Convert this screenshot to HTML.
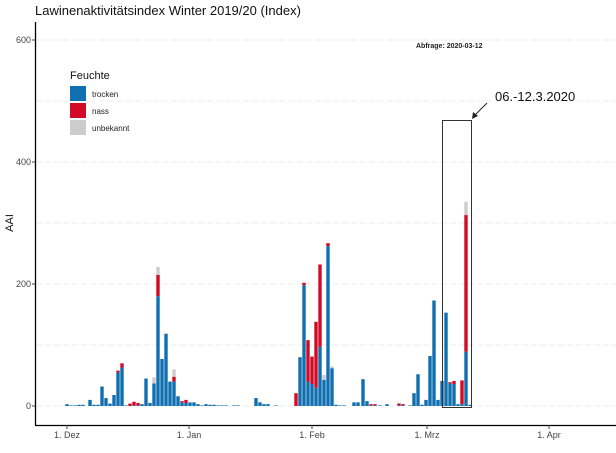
<!DOCTYPE html>
<html><head><meta charset="utf-8"><style>
html,body{margin:0;padding:0;background:#fff;}
svg{display:block;font-family:"Liberation Sans",sans-serif;}
.t{fill:#0f6fb0}.n{fill:#d10a25}.g{fill:#cccccc}
</style></head><body>
<svg width="616" height="453" viewBox="0 0 616 453" xmlns="http://www.w3.org/2000/svg">
<rect width="616" height="453" fill="#fff"/>
<text x="35" y="15" font-size="13" fill="#111">Lawinenaktivitätsindex Winter 2019/20 (Index)</text>
<g stroke="#ececec" stroke-width="1" stroke-dasharray="6,3">
<line x1="36" x2="616" y1="40" y2="40"/><line x1="36" x2="616" y1="101" y2="101"/>
<line x1="36" x2="616" y1="162" y2="162"/><line x1="36" x2="616" y1="223" y2="223"/>
<line x1="36" x2="616" y1="284" y2="284"/><line x1="36" x2="616" y1="345" y2="345"/>
<line x1="36" x2="616" y1="406" y2="406"/>
</g>
<line x1="35.5" y1="22" x2="35.5" y2="425" stroke="#000" stroke-width="1.3"/>
<line x1="35" y1="425.5" x2="616" y2="425.5" stroke="#000" stroke-width="1.3"/>
<g font-size="9" fill="#444" text-anchor="end">
<text x="31" y="43">600</text><text x="31" y="165">400</text><text x="31" y="287">200</text><text x="31" y="409">0</text>
</g>
<g stroke="#444"><line x1="32" x2="35" y1="40" y2="40"/><line x1="32" x2="35" y1="162" y2="162"/><line x1="32" x2="35" y1="284" y2="284"/><line x1="32" x2="35" y1="406" y2="406"/>
<line x1="67" x2="67" y1="425" y2="429"/><line x1="189" x2="189" y1="425" y2="429"/><line x1="312" x2="312" y1="425" y2="429"/><line x1="427" x2="427" y1="425" y2="429"/><line x1="549" x2="549" y1="425" y2="429"/></g>
<g font-size="9" fill="#444" text-anchor="middle">
<text x="67" y="438">1. Dez</text><text x="189" y="438">1. Jan</text><text x="312" y="438">1. Feb</text><text x="427" y="438">1. Mrz</text><text x="549" y="438">1. Apr</text>
</g>
<text transform="translate(13,223) rotate(-90)" font-size="11" text-anchor="middle" fill="#111">AAI</text>
<text x="416" y="48" font-size="7" font-weight="bold" fill="#222">Abfrage: 2020-03-12</text>
<text x="70" y="79" font-size="11" fill="#111">Feuchte</text>
<rect x="70" y="86" width="16" height="15" class="t"/><text x="92" y="97" font-size="8" fill="#222">trocken</text>
<rect x="70" y="103" width="16" height="15" class="n"/><text x="92" y="114" font-size="8" fill="#222">nass</text>
<rect x="70" y="120" width="16" height="15" class="g"/><text x="92" y="131" font-size="8" fill="#222">unbekannt</text>
<g transform="translate(-1.7,0)">
<rect x="67" y="404.17" width="3.4" height="1.83" class="t"/>
<rect x="71" y="405.39" width="3.4" height="0.61" class="t"/>
<rect x="75" y="405.39" width="3.4" height="0.61" class="t"/>
<rect x="79" y="404.78" width="3.4" height="1.22" class="t"/>
<rect x="83" y="404.78" width="3.4" height="1.22" class="t"/>
<rect x="90" y="399.9" width="3.4" height="6.1" class="t"/>
<rect x="94" y="404.78" width="3.4" height="1.22" class="t"/>
<rect x="98" y="404.78" width="3.4" height="1.22" class="t"/>
<rect x="102" y="386.48" width="3.4" height="19.52" class="t"/>
<rect x="106" y="398.07" width="3.4" height="7.93" class="t"/>
<rect x="110" y="403.56" width="3.4" height="2.44" class="t"/>
<rect x="114" y="395.02" width="3.4" height="10.98" class="t"/>
<rect x="118" y="372.45" width="3.4" height="33.55" class="t"/><rect x="118" y="370.62" width="3.4" height="1.83" class="n"/>
<rect x="122" y="367.57" width="3.4" height="38.43" class="t"/><rect x="122" y="363.3" width="3.4" height="4.27" class="n"/>
<rect x="126" y="405.39" width="3.4" height="0.61" class="t"/>
<rect x="130" y="403.56" width="3.4" height="2.44" class="n"/>
<rect x="134" y="405.39" width="3.4" height="0.61" class="t"/><rect x="134" y="401.73" width="3.4" height="3.66" class="n"/>
<rect x="138" y="405.39" width="3.4" height="0.61" class="t"/><rect x="138" y="402.95" width="3.4" height="2.44" class="n"/>
<rect x="142" y="404.17" width="3.4" height="1.83" class="t"/>
<rect x="146" y="378.55" width="3.4" height="27.45" class="t"/>
<rect x="150" y="402.95" width="3.4" height="3.05" class="t"/>
<rect x="154" y="383.43" width="3.4" height="22.57" class="t"/><rect x="154" y="377.33" width="3.4" height="6.1" class="g"/>
<rect x="158" y="296.2" width="3.4" height="109.8" class="t"/><rect x="158" y="274.85" width="3.4" height="21.35" class="n"/><rect x="158" y="266.92" width="3.4" height="7.93" class="g"/>
<rect x="162" y="359.03" width="3.4" height="46.97" class="t"/>
<rect x="166" y="334.02" width="3.4" height="71.98" class="t"/><rect x="166" y="332.8" width="3.4" height="1.22" class="g"/>
<rect x="170" y="381.6" width="3.4" height="24.4" class="t"/>
<rect x="174" y="381.6" width="3.4" height="24.4" class="t"/><rect x="174" y="376.72" width="3.4" height="4.88" class="n"/><rect x="174" y="369.4" width="3.4" height="7.32" class="g"/>
<rect x="178" y="396.24" width="3.4" height="9.76" class="t"/>
<rect x="182" y="402.34" width="3.4" height="3.66" class="t"/><rect x="182" y="401.12" width="3.4" height="1.22" class="n"/>
<rect x="186" y="402.95" width="3.4" height="3.05" class="t"/><rect x="186" y="399.9" width="3.4" height="3.05" class="n"/>
<rect x="190" y="402.34" width="3.4" height="3.66" class="t"/>
<rect x="194" y="402.34" width="3.4" height="3.66" class="t"/>
<rect x="198" y="404.17" width="3.4" height="1.83" class="t"/>
<rect x="202" y="405.39" width="3.4" height="0.61" class="t"/>
<rect x="206" y="404.17" width="3.4" height="1.83" class="t"/>
<rect x="210" y="404.78" width="3.4" height="1.22" class="t"/>
<rect x="214" y="404.78" width="3.4" height="1.22" class="t"/>
<rect x="218" y="405.39" width="3.4" height="0.61" class="t"/>
<rect x="222" y="405.39" width="3.4" height="0.61" class="t"/>
<rect x="226" y="405.39" width="3.4" height="0.61" class="t"/>
<rect x="234" y="405.39" width="3.4" height="0.61" class="t"/>
<rect x="238" y="405.39" width="3.4" height="0.61" class="t"/>
<rect x="256" y="398.07" width="3.4" height="7.93" class="t"/>
<rect x="260" y="402.34" width="3.4" height="3.66" class="t"/>
<rect x="264" y="404.17" width="3.4" height="1.83" class="t"/>
<rect x="268" y="404.17" width="3.4" height="1.83" class="t"/>
<rect x="276" y="405.39" width="3.4" height="0.61" class="t"/>
<rect x="296" y="393.19" width="3.4" height="12.81" class="n"/>
<rect x="300" y="357.2" width="3.4" height="48.8" class="t"/>
<rect x="304" y="285.22" width="3.4" height="120.78" class="t"/><rect x="304" y="282.78" width="3.4" height="2.44" class="n"/>
<rect x="308" y="381.6" width="3.4" height="24.4" class="t"/><rect x="308" y="340.12" width="3.4" height="41.48" class="n"/>
<rect x="312" y="384.04" width="3.4" height="21.96" class="t"/><rect x="312" y="356.59" width="3.4" height="27.45" class="n"/>
<rect x="316" y="387.7" width="3.4" height="18.3" class="t"/><rect x="316" y="321.82" width="3.4" height="65.88" class="n"/>
<rect x="320" y="346.83" width="3.4" height="59.17" class="t"/><rect x="320" y="264.48" width="3.4" height="82.35" class="n"/>
<rect x="324" y="379.77" width="3.4" height="26.23" class="t"/><rect x="324" y="374.89" width="3.4" height="4.88" class="g"/>
<rect x="328" y="246.18" width="3.4" height="159.82" class="t"/><rect x="328" y="243.13" width="3.4" height="3.05" class="n"/>
<rect x="332" y="368.18" width="3.4" height="37.82" class="t"/><rect x="332" y="366.35" width="3.4" height="1.83" class="g"/>
<rect x="336" y="404.78" width="3.4" height="1.22" class="t"/>
<rect x="340" y="405.39" width="3.4" height="0.61" class="t"/>
<rect x="344" y="405.39" width="3.4" height="0.61" class="t"/>
<rect x="354" y="402.34" width="3.4" height="3.66" class="t"/>
<rect x="358" y="402.34" width="3.4" height="3.66" class="t"/>
<rect x="363" y="379.16" width="3.4" height="26.84" class="t"/>
<rect x="367" y="401.12" width="3.4" height="4.88" class="t"/>
<rect x="371" y="405.39" width="3.4" height="0.61" class="t"/><rect x="371" y="404.17" width="3.4" height="1.22" class="n"/>
<rect x="375" y="405.39" width="3.4" height="0.61" class="t"/><rect x="375" y="404.17" width="3.4" height="1.22" class="n"/>
<rect x="380" y="405.39" width="3.4" height="0.61" class="t"/>
<rect x="387" y="404.17" width="3.4" height="1.83" class="t"/>
<rect x="399" y="405.39" width="3.4" height="0.61" class="t"/><rect x="399" y="403.56" width="3.4" height="1.83" class="n"/><rect x="399" y="402.95" width="3.4" height="0.61" class="g"/>
<rect x="403" y="405.39" width="3.4" height="0.61" class="t"/><rect x="403" y="404.17" width="3.4" height="1.22" class="n"/>
<rect x="410" y="405.39" width="3.4" height="0.61" class="t"/>
<rect x="414" y="393.19" width="3.4" height="12.81" class="t"/>
<rect x="418" y="374.28" width="3.4" height="31.72" class="t"/>
<rect x="422" y="404.78" width="3.4" height="1.22" class="t"/>
<rect x="426" y="399.9" width="3.4" height="6.1" class="t"/>
<rect x="430" y="355.98" width="3.4" height="50.02" class="t"/>
<rect x="434" y="300.47" width="3.4" height="105.53" class="t"/>
<rect x="438" y="399.9" width="3.4" height="6.1" class="t"/>
<rect x="442" y="380.99" width="3.4" height="25.01" class="t"/>
<rect x="446" y="312.67" width="3.4" height="93.33" class="t"/>
<rect x="450" y="383.43" width="3.4" height="22.57" class="t"/><rect x="450" y="382.21" width="3.4" height="1.22" class="n"/>
<rect x="454" y="384.04" width="3.4" height="21.96" class="t"/><rect x="454" y="380.99" width="3.4" height="3.05" class="n"/>
<rect x="458" y="404.17" width="3.4" height="1.83" class="t"/>
<rect x="462" y="404.17" width="3.4" height="1.83" class="t"/><rect x="462" y="380.38" width="3.4" height="23.79" class="n"/>
<rect x="466" y="351.71" width="3.4" height="54.29" class="t"/><rect x="466" y="215.07" width="3.4" height="136.64" class="n"/><rect x="466" y="201.65" width="3.4" height="13.42" class="g"/>
<rect x="470" y="404.78" width="3.4" height="1.22" class="t"/>
</g>
<rect x="442.5" y="120.5" width="29" height="287" fill="none" stroke="#333" stroke-width="1"/>
<line x1="487" y1="103" x2="473" y2="117" stroke="#222" stroke-width="1"/>
<polygon points="472,119 473,112 478,116" fill="#222"/>
<text x="495" y="101" font-size="13" fill="#111">06.-12.3.2020</text>
</svg>
</body></html>
